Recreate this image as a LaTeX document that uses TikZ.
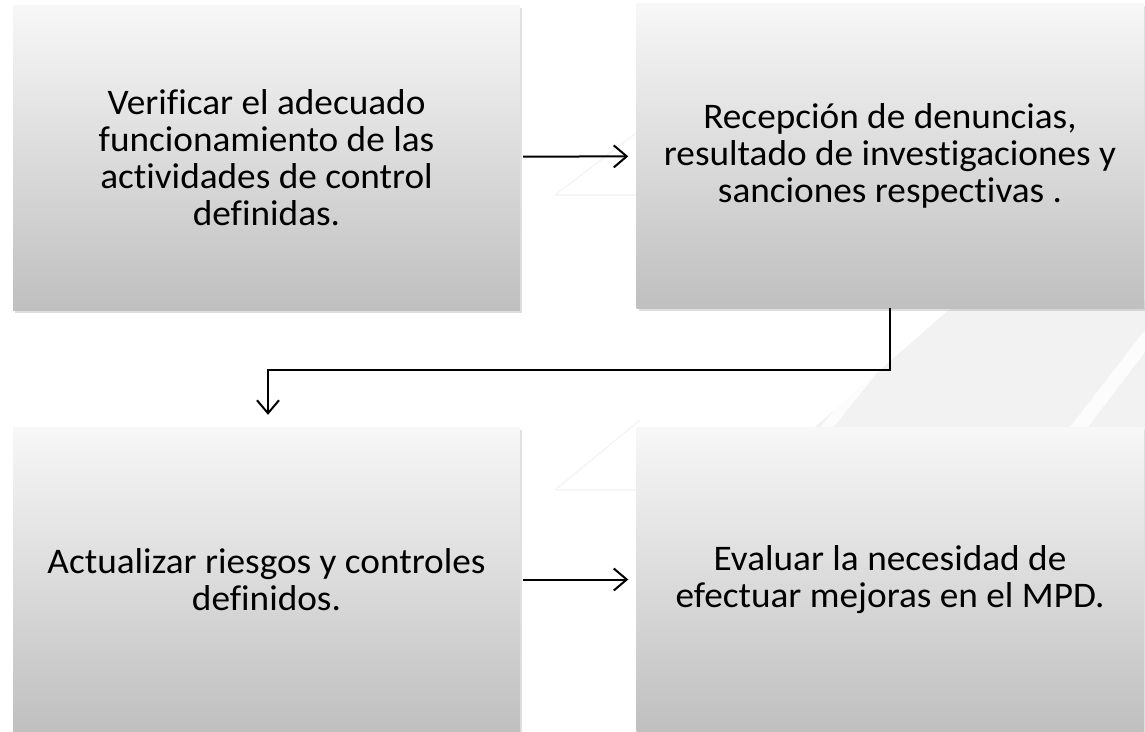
\documentclass[tikz,border=0pt]{standalone}
\usepackage{fontspec}
\setmainfont{Carlito}[Ligatures={NoCommon},FakeStretch=1.035]
\usetikzlibrary{arrows.meta,shadows}

\begin{document}
\begin{tikzpicture}[x=1pt,y=-1pt,>={Straight Barb[length=13pt,width=22pt]}]
\tikzstyle{caja}=[inner sep=0pt,minimum width=507pt,minimum height=305pt,
  top color=black!3,bottom color=black!25,
  drop shadow={opacity=0.25,shadow xshift=2pt,shadow yshift=-3pt},
  align=center,font=\fontsize{36}{37}\selectfont];
\tikzstyle{flecha}=[line width=2pt,->,shorten >=8pt,shorten <=3pt];
\useasboundingbox (0,0) rectangle (1145,731);
% faint watermark in the background
    \fill[black!5] (800,440) -- (960,300) -- (1145,300) -- (1145,430) -- (1120,440) -- cycle;
    \fill[white,opacity=0.8] (810,440) -- (915,310) -- (928,310) -- (823,440) -- cycle;
    \fill[white,opacity=0.8] (1060,440) -- (1145,330) -- (1145,352) -- (1078,440) -- cycle;
    \draw[black!4,line width=1.5pt] (555,195) -- (640,130);
    \draw[black!4,line width=1.5pt] (555,195) -- (640,195);
    \draw[black!4,line width=1.5pt] (555,490) -- (640,420);
    \draw[black!4,line width=1.5pt] (555,490) -- (640,490);
% boxes
    \node[caja] (verificar) at (266.5,157.5)
      {Verificar el adecuado\\funcionamiento de las\\actividades de control\\definidas.};
    \node[caja] (recepcion) at (890,155.5)
      {Recepción de denuncias,\\resultado de investigaciones y\\sanciones respectivas .};
    \node[caja] (actualizar) at (266.5,579.5)
      {Actualizar riesgos y controles\\definidos.};
    \node[caja] (evaluar) at (890,579.5)
      {Evaluar la necesidad de\\efectuar mejoras en el MPD.};
% connectors
    \draw[flecha] (verificar) -- (recepcion);
    \draw[flecha] (actualizar) -- (evaluar);
    \draw[line width=2pt,->,shorten >=12pt] (recepcion.south) |- (268,370) -- (actualizar.north -| 268,0);
\end{tikzpicture}
\end{document}
